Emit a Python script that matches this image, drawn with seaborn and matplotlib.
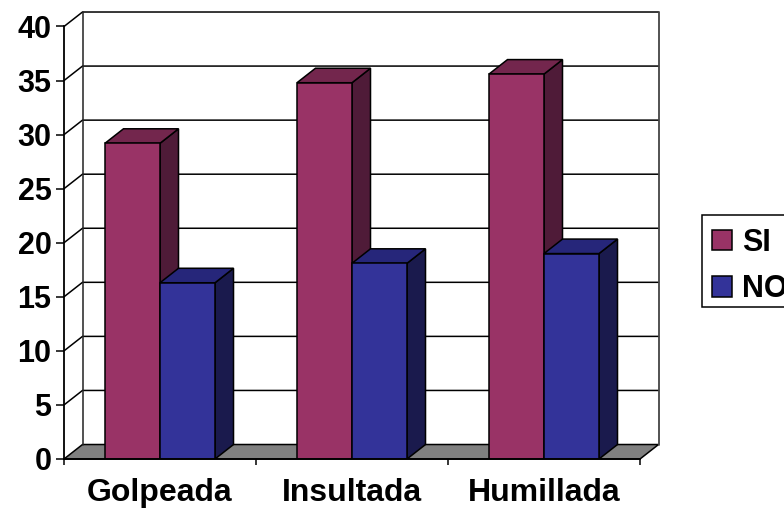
import matplotlib
matplotlib.use("Agg")
import matplotlib.pyplot as plt
from matplotlib.patches import Polygon, Rectangle
import pandas as pd
import seaborn as sns

categories = ["Golpeada", "Insultada", "Humillada"]
si_values = [29.2, 34.8, 35.6]
no_values = [16.3, 18.1, 19.0]
y_ticks = [0, 5, 10, 15, 20, 25, 30, 35, 40]

colors = {"SI": "#993366", "NO": "#333399"}
side_colors = {"SI": "#4f1b38", "NO": "#1a1a4d"}
top_colors = {"SI": "#73264d", "NO": "#26267a"}

# how far the fake 3d back plane sits from the front one (data units)
dx = 18.5 / 192
dy = 1.34

sns.set_theme(style="white")
plt.rcParams["font.family"] = ["Liberation Sans", "DejaVu Sans"]

df = pd.DataFrame({
    "cat": categories * 2,
    "serie": ["SI"] * 3 + ["NO"] * 3,
    "val": si_values + no_values,
})

fig = plt.figure(figsize=(7.84, 5.08), dpi=100)
ax = fig.add_axes([64 / 784, (508 - 459) / 508, 576 / 784, 432.5 / 508])

sns.barplot(data=df, x="cat", y="val", hue="serie", hue_order=["SI", "NO"],
            palette=colors, width=0.573, gap=0, saturation=1, errorbar=None,
            edgecolor="black", linewidth=1.1, ax=ax)

ax.set_xlim(-0.5, 2.5)
ax.set_ylim(0, 40)
ax.set_xlabel("")
ax.set_ylabel("")

# floor and back wall
ax.add_patch(Polygon([(-0.5, 0), (2.5, 0), (2.5 + dx, dy), (-0.5 + dx, dy)], closed=True,
                     facecolor="#808080", edgecolor="black", linewidth=1.1,
                     zorder=1, clip_on=False))
for t in y_ticks[1:]:
    ax.plot([-0.5, -0.5 + dx, 2.5 + dx], [t, t + dy, t + dy], color="black", lw=1.1,
            zorder=1, clip_on=False, solid_joinstyle="miter")
ax.plot([-0.5 + dx, -0.5 + dx], [dy, 40 + dy], color="#222222", lw=1.1, zorder=1, clip_on=False)
ax.plot([2.5 + dx, 2.5 + dx], [dy, 40 + dy], color="#444444", lw=1.3, zorder=1, clip_on=False)

# side and top faces of the bars, taken from the bars seaborn drew
for i, serie in enumerate(["SI", "NO"]):
    base_z = 3 + i * 2
    for bar in ax.containers[i]:
        x0 = bar.get_x()
        x1 = x0 + bar.get_width()
        h = bar.get_height()
        bar.set_zorder(base_z + 1)
        ax.add_patch(Polygon([(x1, 0), (x1 + dx, dy), (x1 + dx, h + dy), (x1, h)], closed=True,
                             facecolor=side_colors[serie], edgecolor="black", linewidth=1.1,
                             zorder=base_z))
        ax.add_patch(Polygon([(x0, h), (x1, h), (x1 + dx, h + dy), (x0 + dx, h + dy)], closed=True,
                             facecolor=top_colors[serie], edgecolor="black", linewidth=1.1,
                             zorder=base_z))

sns.despine(ax=ax, top=True, right=True)
for s in ["left", "bottom"]:
    ax.spines[s].set_color("black")
    ax.spines[s].set_linewidth(1.3)
    ax.spines[s].set_zorder(20)

ax.set_yticks(y_ticks)
ax.set_xticks([-0.5, 0.5, 1.5, 2.5])
ax.set_xticklabels([])
ax.set_xticks([0, 1, 2], minor=True)
ax.set_xticklabels(categories, minor=True, fontsize=23, fontweight="bold", color="black")
ax.tick_params(axis="x", which="major", bottom=True, length=4.5, width=1.1, color="black")
ax.tick_params(axis="x", which="minor", bottom=False, length=0, pad=14)
ax.tick_params(axis="y", left=True, length=5.5, width=1.1, color="black", pad=3.5)
for lab in ax.get_yticklabels():
    lab.set_fontsize(22)
    lab.set_fontweight("bold")
    lab.set_color("black")

# legend box runs off the right edge like in the original
fig.add_artist(Rectangle((702 / 784, (508 - 306.7) / 508), 100 / 784, 92 / 508,
                         transform=fig.transFigure, facecolor="white", edgecolor="black",
                         linewidth=1.1, zorder=-1))
handles, labels = ax.get_legend_handles_labels()
leg = ax.legend(handles, labels, loc="upper left", bbox_to_anchor=(702 / 784, (508 - 219.7) / 508),
                bbox_transform=fig.transFigure, prop={"weight": "bold", "size": 22},
                labelcolor="black", frameon=False,
                handlelength=0.72, handleheight=0.655, handletextpad=0.33, labelspacing=0.54,
                borderpad=0.27, borderaxespad=0)
leg.set_zorder(30)
for h in leg.legend_handles:
    h.set_x(1.44)
    h.set_width(14.4)

fig.savefig("out.png", dpi=100)
